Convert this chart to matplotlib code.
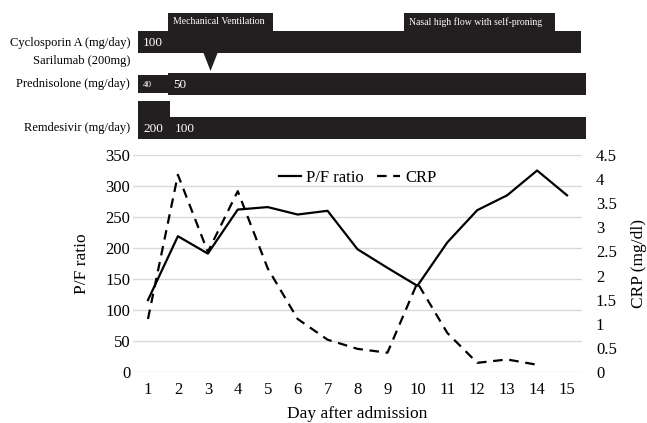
import matplotlib
matplotlib.use('Agg')
import matplotlib.pyplot as plt
import matplotlib.transforms as mtransforms
import numpy as np
from matplotlib.ticker import FuncFormatter, MultipleLocator

plt.rcParams['font.family'] = ['Liberation Serif', 'DejaVu Serif']

# ---------------- data ----------------
days = list(range(1, 16))
pf_ratio = [116, 219, 191, 262, 266, 254, 260, 198, 168, 139, 209, 261, 285, 325, 285]
crp = [1.10, 4.09, 2.49, 3.75, 2.15, 1.10, 0.67, 0.48, 0.40, 1.85, 0.81, 0.19, 0.26, 0.15, np.nan]

# treatment timeline (in day units)
support_labels = ['Mechanical Ventilation', 'Nasal high flow with self-proning']
support_start = [1.67, 9.55]
support_end = [5.18, 14.60]

row_labels = ['Cyclosporin A (mg/day)', 'Sarilumab (200mg)', 'Prednisolone (mg/day)', 'Remdesivir (mg/day)']
cyclo_start = [0.67]
cyclo_end = [15.47]
cyclo_dose = ['100']
sarilumab_day = 3.09
pred_start = [0.67, 1.67]
pred_end = [1.67, 15.63]
pred_dose = ['40', '50']
remd_start = [0.67, 1.73]
remd_end = [1.73, 15.63]
remd_dose = ['200', '100']

# ---------------- figure ----------------
W, H = 647, 423
fig = plt.figure(figsize=(W / 100, H / 100), dpi=100)
BAR = '#231f20'

x0, x1 = 133, 582
ax = fig.add_axes([x0 / W, 51 / H, (x1 - x0) / W, 217 / H])
ax2 = ax.twinx()

ax.plot(days, pf_ratio, color='black', lw=1.6, label='P/F ratio', zorder=3)
ax2.plot(days, crp, color='black', lw=1.6, ls=(0, (4.3, 3.0)), label='CRP', zorder=3)

ax.set_xlim(0.5, 15.5)
ax.set_ylim(0, 350)
ax2.set_ylim(0, 4.5)
ax.set_xticks(days)
ax.yaxis.set_major_locator(MultipleLocator(50))
ax2.yaxis.set_major_locator(MultipleLocator(0.5))
ax2.yaxis.set_major_formatter(FuncFormatter(lambda v, p: f'{v:g}'))
ax.grid(axis='y', color='#d9d9d9', lw=1.0)
ax.set_axisbelow(True)
for a in (ax, ax2):
    for s in a.spines.values():
        s.set_visible(False)
ax.tick_params(axis='both', length=0, labelsize=12)
ax.tick_params(axis='x', pad=7)
ax.tick_params(axis='y', pad=2)
ax2.tick_params(axis='y', length=0, labelsize=12, pad=10)

ax.set_xlabel('Day after admission', fontsize=12.5, labelpad=6)
ax.set_ylabel('P/F ratio', fontsize=12.5, labelpad=11)
ax2.set_ylabel('CRP (mg/dl)', fontsize=12.5, labelpad=10)

h1, l1 = ax.get_legend_handles_labels()
h2, l2 = ax2.get_legend_handles_labels()
ax2.legend(h1 + h2, l1 + l2, loc='center', bbox_to_anchor=(0.50, 0.895), ncol=2,
           frameon=False, fontsize=12, handlelength=1.35, handletextpad=0.3,
           columnspacing=0.8)

# ---------------- treatment panel ----------------
top = fig.add_axes([x0 / W, 1 - 150 / H, (x1 - x0) / W, 150 / H])
top.set_xlim(0.5, 15.5)
top.set_ylim(150, 0)
top.axis('off')

def seg(start, end, ytop, ybot):
    top.fill_between([start, end], ytop, ybot, color=BAR, lw=0, clip_on=False)

tx = 0.17  # text inset from segment start (days)

for lab, s, e in zip(support_labels, support_start, support_end):
    seg(s, e, 13, 31)
    top.text(s + tx, 22, lab, color='white', fontsize=7, va='center', ha='left')

for s, e, d in zip(cyclo_start, cyclo_end, cyclo_dose):
    seg(s, e, 31, 53)
    top.text(s + tx, 43, d, color='white', fontsize=9.5, va='center', ha='left')

top.fill([sarilumab_day - 0.235, sarilumab_day + 0.235, sarilumab_day], [53, 53, 71],
         color=BAR, lw=0)

pred_tops = [75, 73]
pred_bots = [93, 95]
pred_fs = [6.5, 9.5]
for s, e, d, yt, yb, fs in zip(pred_start, pred_end, pred_dose, pred_tops, pred_bots, pred_fs):
    seg(s, e, yt, yb)
    top.text(s + tx, 85, d, color='white', fontsize=fs, va='center', ha='left')

remd_tops = [101, 117]
for s, e, d, yt in zip(remd_start, remd_end, remd_dose, remd_tops):
    seg(s, e, yt, 139)
    top.text(s + tx, 129, d, color='white', fontsize=9.5, va='center', ha='left')

label_y = [43, 61, 84, 128]
lx = (130 - x0) / (x1 - x0)
blend = mtransforms.blended_transform_factory(top.transAxes, top.transData)
for lab, yy in zip(row_labels, label_y):
    top.text(lx, yy, lab, transform=blend, ha='right', va='center', fontsize=9)

fig.savefig('out.png', dpi=100)
